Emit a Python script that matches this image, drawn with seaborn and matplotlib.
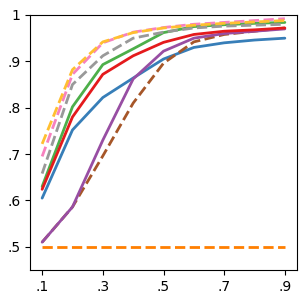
import pandas as pd
import matplotlib
matplotlib.use("Agg")
import matplotlib.pyplot as plt
import seaborn as sns

x = [0.1, 0.2, 0.3, 0.4, 0.5, 0.6, 0.7, 0.8, 0.9]

blue = [0.605, 0.752, 0.822, 0.864, 0.905, 0.930, 0.940, 0.946, 0.950]
orange = [0.50, 0.50, 0.50, 0.50, 0.50, 0.50, 0.50, 0.50, 0.50]
green = [0.630, 0.802, 0.893, 0.927, 0.962, 0.975, 0.979, 0.982, 0.984]
pink = [0.695, 0.872, 0.940, 0.963, 0.973, 0.980, 0.984, 0.988, 0.992]
brown = [0.510, 0.586, 0.696, 0.810, 0.896, 0.942, 0.958, 0.965, 0.972]
purple = [0.510, 0.586, 0.730, 0.862, 0.922, 0.950, 0.960, 0.965, 0.970]
grey = [0.658, 0.850, 0.912, 0.950, 0.963, 0.972, 0.976, 0.978, 0.980]
red = [0.624, 0.780, 0.872, 0.912, 0.941, 0.958, 0.965, 0.968, 0.972]
yellow = [0.722, 0.882, 0.942, 0.962, 0.972, 0.978, 0.982, 0.985, 0.988]

series = {
    "blue": (blue, "#377eb8", "-"),
    "orange": (orange, "#ff7f00", "--"),
    "green": (green, "#4daf4a", "-"),
    "pink": (pink, "#f781bf", "--"),
    "brown": (brown, "#a65628", "--"),
    "purple": (purple, "#984ea3", "-"),
    "grey": (grey, "#999999", "--"),
    "red": (red, "#e41a1c", "-"),
    "yellow": (yellow, "#ffbf30", "--"),
}

rows = []
for name, (vals, _, _) in series.items():
    for xi, yi in zip(x, vals):
        rows.append({"x": xi, "y": yi, "name": name})
df = pd.DataFrame(rows)

palette = {k: v[1] for k, v in series.items()}
dashes = {k: ("" if v[2] == "-" else (3.7, 1.6)) for k, v in series.items()}

sns.set_style("ticks")
plt.rcParams["font.family"] = ["DejaVu Sans"]

fig, ax = plt.subplots(figsize=(3, 3), dpi=100)
sns.lineplot(data=df, x="x", y="y", hue="name", style="name",
             palette=palette, dashes=dashes, linewidth=2, legend=False, ax=ax)

ax.set_xlim(0.06, 0.94)
ax.set_ylim(0.45, 1.0)
ax.set_xticks([0.1, 0.3, 0.5, 0.7, 0.9])
ax.set_xticklabels([".1", ".3", ".5", ".7", ".9"])
ax.set_yticks([0.5, 0.6, 0.7, 0.8, 0.9, 1.0])
ax.set_yticklabels([".5", ".6", ".7", ".8", ".9", "1"])
ax.set_xlabel("")
ax.set_ylabel("")
for s in ax.spines.values():
    s.set_visible(True)
    s.set_color("black")
ax.tick_params(colors="black")

fig.subplots_adjust(left=0.1, right=0.99, top=0.95, bottom=0.1)
fig.savefig("out.png", dpi=100)
